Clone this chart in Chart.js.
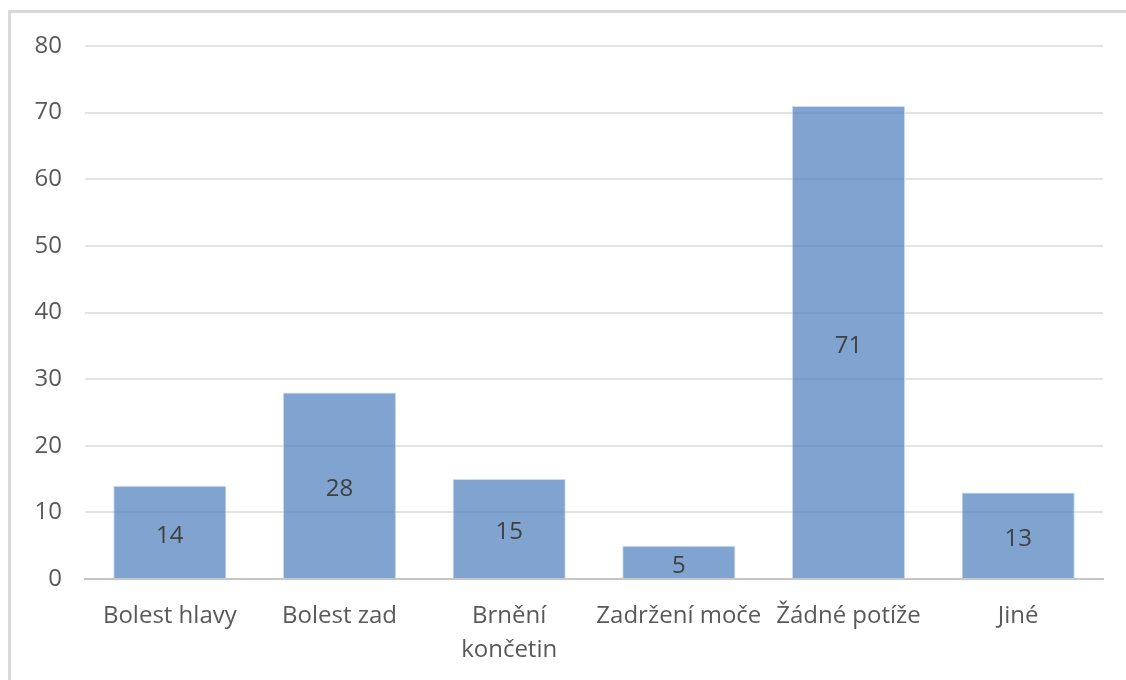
<!DOCTYPE html>
<html>
<head>
<meta charset="utf-8">
<script src="https://cdn.jsdelivr.net/npm/chart.js@4/dist/chart.umd.min.js"></script>
<style>
  html, body { margin: 0; padding: 0; background: #fff; }
  #wrap { position: relative; width: 1126px; height: 680px; overflow: hidden; }
  #frame { position: absolute; left: 8px; top: 10px; width: 1200px; height: 800px;
           border-left: 3px solid #d9d9d9; border-top: 3px solid #d9d9d9; }
  canvas { position: absolute; left: 0; top: 0; }
</style>
</head>
<body>
<div id="wrap">
  <div id="frame"></div>
  <canvas id="c" width="1126" height="680"></canvas>
</div>
<script>
const categories = ["Bolest hlavy", "Bolest zad", ["Brnění", "končetin"], "Zadržení moče", "Žádné potíže", "Jiné"];
const values = [14, 28, 15, 5, 71, 13];
const yTicks = [0, 10, 20, 30, 40, 50, 60, 70, 80];

const FONT = "'Open Sans', sans-serif";
const TEXT = '#595959';

const valueLabels = {
  id: 'valueLabels',
  afterDatasetsDraw(chart) {
    const ctx = chart.ctx;
    const meta = chart.getDatasetMeta(0);
    ctx.save();
    ctx.font = "24px " + FONT;
    ctx.fillStyle = '#404040';
    ctx.textAlign = 'center';
    ctx.textBaseline = 'middle';
    meta.data.forEach((bar, i) => {
      const y = (bar.y + bar.base) / 2 + 4;
      ctx.fillText(String(chart.data.datasets[0].data[i]), bar.x, y);
    });
    ctx.restore();
  }
};

new Chart(document.getElementById('c'), {
  type: 'bar',
  data: {
    labels: categories,
    datasets: [{
      data: values,
      backgroundColor: 'rgba(79,129,189,0.72)',
      borderColor: 'rgba(200,215,235,0.9)',
      borderWidth: 1,
      barPercentage: 0.667,
      categoryPercentage: 1.0
    }]
  },
  options: {
    responsive: false,
    animation: false,
    devicePixelRatio: 1,
    layout: { padding: { top: 46, right: 23, bottom: 0, left: 0 } },
    plugins: { legend: { display: false }, tooltip: { enabled: false } },
    scales: {
      x: {
        grid: { display: false, drawTicks: false },
        border: { display: true, color: '#c6c6c6', width: 2 },
        ticks: {
          color: TEXT,
          font: { family: FONT, size: 24, lineHeight: 1.417 },
          padding: 20,
          maxRotation: 0,
          autoSkip: false
        },
        afterFit(scale) { scale.height = 101; }
      },
      y: {
        min: 0, max: 80,
        afterBuildTicks(scale) { scale.ticks = yTicks.map(v => ({ value: v })); },
        grid: { color: '#e3e3e3', lineWidth: 2, drawTicks: false },
        border: { display: false },
        ticks: {
          color: TEXT,
          font: { family: FONT, size: 24 },
          padding: 23
        },
        afterFit(scale) { scale.width = 85; }
      }
    }
  },
  plugins: [valueLabels]
});
</script>
</body>
</html>
